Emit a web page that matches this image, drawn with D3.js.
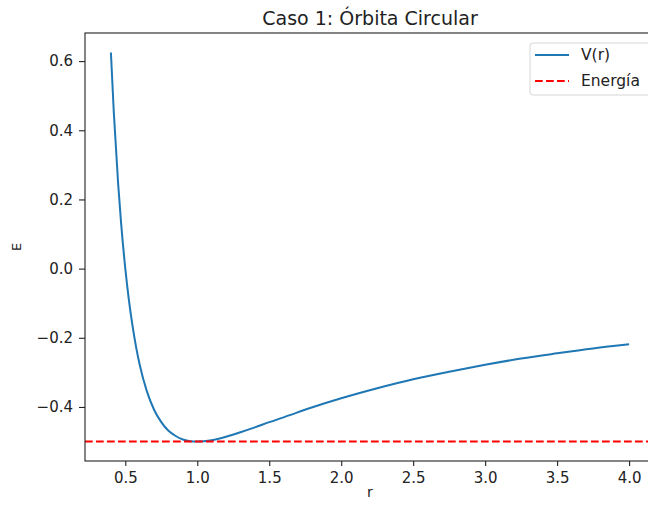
<!DOCTYPE html>
<html>
<head>
<meta charset="utf-8">
<script src="https://cdn.jsdelivr.net/npm/d3@7"></script>
<style>
    body { margin: 0; background: #fff; }
    svg { display: block; font-family: "DejaVu Sans", sans-serif; }
</style>
</head>
<body>
<div id="chart"></div>
<script>
// r values and V(r)
const radii = [0.40, 0.42, 0.45, 0.47, 0.50, 0.525, 0.55, 0.575, 0.60, 0.65, 0.70, 0.75, 0.80, 0.85, 0.90, 0.95, 1.00,
    1.10, 1.20, 1.30, 1.40, 1.50, 1.60, 1.80, 2.00, 2.25, 2.50, 2.75, 3.00, 3.25, 3.50, 3.75, 4.00];
const potential = [0.625, 0.453, 0.247, 0.136, 0.000, -0.091, -0.165, -0.227, -0.278, -0.355, -0.408, -0.444, -0.469, -0.484, -0.494, -0.499, -0.500,
    -0.496, -0.486, -0.473, -0.459, -0.444, -0.430, -0.401, -0.375, -0.346, -0.320, -0.298, -0.278, -0.260, -0.245, -0.231, -0.219];
const energy = -0.5;
const xTicks = [0.5, 1.0, 1.5, 2.0, 2.5, 3.0, 3.5, 4.0];
const yTicks = [-0.4, -0.2, 0.0, 0.2, 0.4, 0.6];
const seriesNames = ['V(r)', 'Energía'];

const width = 648;
const height = 506;
const margin = {top: 33, bottom: 45, left: 85, right: -7};
const plotWidth = width - margin.left - margin.right;
const plotHeight = height - margin.top - margin.bottom;

const points = radii.map((r, i) => ({r: r, v: potential[i]}));

const x = d3.scaleLinear()
    .domain([0.22, 4.18])
    .range([0, plotWidth]);

const y = d3.scaleLinear()
    .domain([-0.55625, 0.68125])
    .range([plotHeight, 0]);

const svg = d3.select('#chart')
    .append('svg')
    .attr('width', width)
    .attr('height', height);

const g = svg.append('g')
    .attr('transform', `translate(${margin.left},${margin.top})`);

g.append('defs').append('clipPath')
    .attr('id', 'clip')
    .append('rect')
    .attr('width', plotWidth)
    .attr('height', plotHeight);

const line = d3.line()
    .x(d => x(d.r))
    .y(d => y(d.v))
    .curve(d3.curveMonotoneX);

g.append('path')
    .datum(points)
    .attr('clip-path', 'url(#clip)')
    .attr('fill', 'none')
    .attr('stroke', '#1f77b4')
    .attr('stroke-width', 2)
    .attr('stroke-linejoin', 'round')
    .attr('d', line);

g.append('line')
    .attr('clip-path', 'url(#clip)')
    .attr('x1', 0)
    .attr('x2', plotWidth)
    .attr('y1', y(energy))
    .attr('y2', y(energy))
    .attr('stroke', '#ff0000')
    .attr('stroke-width', 2)
    .attr('stroke-dasharray', '7.7,3.3');

const xAxis = d3.axisBottom(x)
    .tickValues(xTicks)
    .tickFormat(d3.format('.1f'))
    .tickSize(5)
    .tickPadding(6)
    .tickSizeOuter(0);

const yAxis = d3.axisLeft(y)
    .tickValues(yTicks)
    .tickFormat(d3.format('.1f'))
    .tickSize(6)
    .tickPadding(6)
    .tickSizeOuter(0);

g.append('g')
    .attr('class', 'x axis')
    .attr('transform', `translate(0,${plotHeight})`)
    .call(xAxis);

g.append('g')
    .attr('class', 'y axis')
    .call(yAxis);

g.selectAll('.axis')
    .attr('font-size', 15)
    .attr('font-family', '"DejaVu Sans", sans-serif');
g.selectAll('.axis text').attr('fill', '#222');
g.selectAll('.axis line').attr('stroke', '#222').attr('stroke-width', 1.1);
g.selectAll('.axis .domain').remove();

g.append('rect')
    .attr('width', plotWidth)
    .attr('height', plotHeight)
    .attr('fill', 'none')
    .attr('stroke', '#222')
    .attr('stroke-width', 1.1);

// title and axis labels
svg.append('text')
    .attr('x', margin.left + plotWidth / 2)
    .attr('y', 25)
    .attr('text-anchor', 'middle')
    .style('font-size', '19px')
    .style('fill', '#222')
    .text('Caso 1: Órbita Circular');

svg.append('text')
    .attr('x', margin.left + plotWidth / 2)
    .attr('y', 497)
    .attr('text-anchor', 'middle')
    .style('font-size', '14px')
    .style('fill', '#222')
    .text('r');

svg.append('text')
    .attr('transform', `translate(21,${margin.top + plotHeight / 2}) rotate(-90)`)
    .attr('text-anchor', 'middle')
    .style('font-size', '13px')
    .style('fill', '#222')
    .text('E');

// legend
const legend = g.append('g')
    .attr('transform', `translate(${plotWidth - 125},10)`);

legend.append('rect')
    .attr('width', 122)
    .attr('height', 52)
    .attr('rx', 3)
    .attr('fill', 'rgba(255,255,255,0.8)')
    .attr('stroke', '#d6d6d6');

const legendStyles = [
    {color: '#1f77b4', dash: null},
    {color: '#ff0000', dash: '7.7,3.3'}
];

seriesNames.forEach((name, i) => {
    const row = legend.append('g')
        .attr('transform', `translate(0,${12 + i * 26})`);
    row.append('line')
        .attr('x1', 5)
        .attr('x2', 39)
        .attr('stroke', legendStyles[i].color)
        .attr('stroke-width', 2)
        .attr('stroke-dasharray', legendStyles[i].dash);
    row.append('text')
        .attr('x', 51)
        .attr('dy', '0.35em')
        .style('font-size', '15.5px')
        .style('fill', '#222')
        .text(name);
});
</script>
</body>
</html>
